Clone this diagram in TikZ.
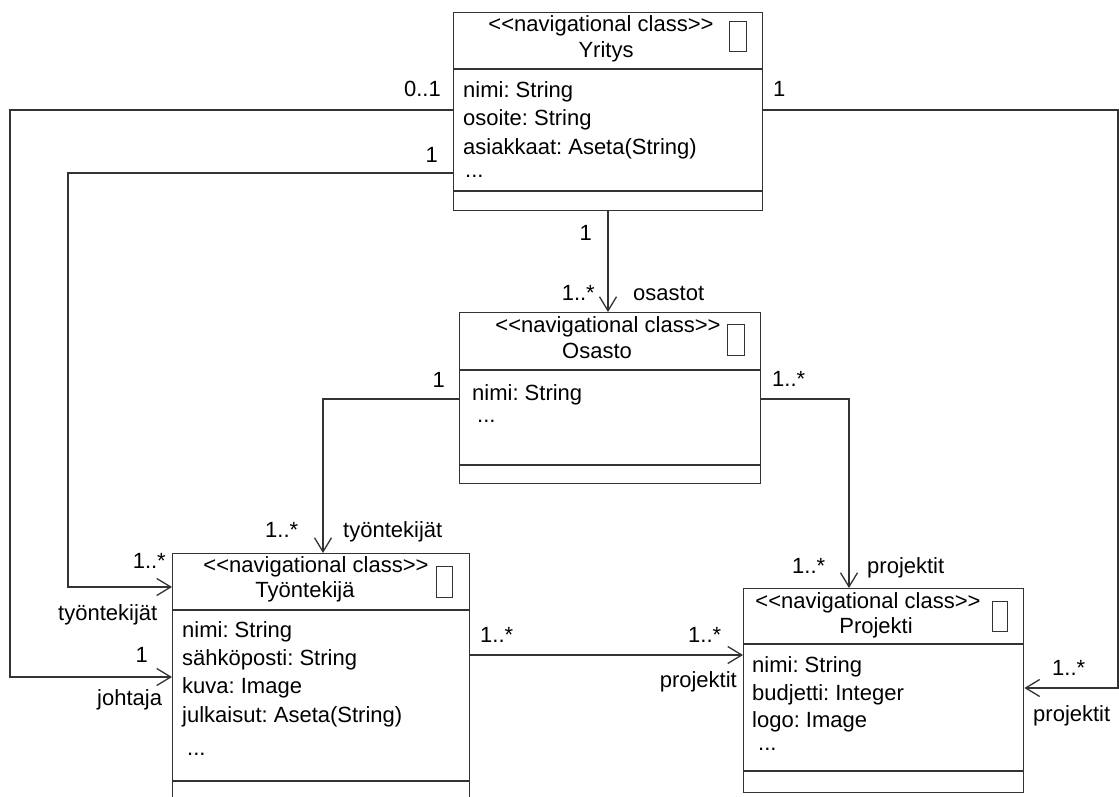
\documentclass[tikz,border=0pt]{standalone}
\usepackage{fontspec}
\setmainfont{Liberation Sans}[Ligatures=TeXOff]
\usetikzlibrary{arrows.meta}
\definecolor{linegray}{HTML}{333333}
\frenchspacing
\begin{document}
\begin{tikzpicture}[x=1pt,y=-1pt,
  box/.style={draw=linegray, line width=1.4pt, inner sep=0pt, anchor=north west},
  divider/.style={draw=linegray, line width=1.4pt},
  icon/.style={draw=linegray, line width=1pt},
  assoc/.style={draw=linegray, line width=1.3pt, -{Straight Barb[length=14pt,width=17pt]}},
  txt/.style={inner sep=0pt, font=\fontsize{22}{26}\selectfont},
  lw/.style={txt, anchor=base west},
  le/.style={txt, anchor=base east},
  lc/.style={txt, anchor=base},
]
\useasboundingbox (0,0) rectangle (1119,797);
\clip (0,0) rectangle (1119,797);
\fill[white] (0,0) rectangle (1119,797);

% class boxes
\node[box, minimum width=309pt, minimum height=198pt] (yritys) at (453,12) {};
\node[box, minimum width=301pt, minimum height=171pt] (osasto) at (459,312) {};
\node[box, minimum width=297pt, minimum height=260pt] (tyontekija) at (172,553) {};
\node[box, minimum width=280pt, minimum height=204pt] (projekti) at (743,588) {};

% compartments
\draw[divider] ([yshift=-57pt]yritys.north west) -- ([yshift=-57pt]yritys.north east);
\draw[divider] ([yshift=-179pt]yritys.north west) -- ([yshift=-179pt]yritys.north east);
\draw[divider] ([yshift=-58pt]osasto.north west) -- ([yshift=-58pt]osasto.north east);
\draw[divider] ([yshift=-153pt]osasto.north west) -- ([yshift=-153pt]osasto.north east);
\draw[divider] ([yshift=-57pt]tyontekija.north west) -- ([yshift=-57pt]tyontekija.north east);
\draw[divider] ([yshift=-228pt]tyontekija.north west) -- ([yshift=-228pt]tyontekija.north east);
\draw[divider] ([yshift=-56pt]projekti.north west) -- ([yshift=-56pt]projekti.north east);
\draw[divider] ([yshift=-183pt]projekti.north west) -- ([yshift=-183pt]projekti.north east);

% stereotype icons
\draw[icon] (729,22) rectangle (746,52);
\draw[icon] (727,324) rectangle (744,355);
\draw[icon] (436,566) rectangle (452,597);
\draw[icon] (992,601) rectangle (1007,631);

% Yritys
\node[lc] (ys) at (601,32) {<<navigational class>>};
\node[lc] (yn) at (606,58) {Yritys};
\node[lw] (ya1) at (463,98) {nimi: String};
\node[lw] (ya2) at (463,126) {osoite: String};
\node[lw] (ya3) at (463,154) {asiakkaat: Aseta(String)};
\node[lw] (ya4) at (465,177) {...};

% Osasto
\node[lc] (os) at (608,332) {<<navigational class>>};
\node[lc] (on) at (597,358) {Osasto};
\node[lw] (oa1) at (472,400) {nimi: String};
\node[lw] (oa2) at (477,422) {...};

% Tyontekija
\node[lc] (ts) at (316,572) {<<navigational class>>};
\node[lc] (tn) at (305,597) {Työntekijä};
\node[lw] (ta1) at (182,637) {nimi: String};
\node[lw] (ta2) at (182,665) {sähköposti: String};
\node[lw] (ta3) at (182,693) {kuva: Image};
\node[lw] (ta4) at (182,722) {julkaisut: Aseta(String)};
\node[lw] (ta5) at (187,755) {...};

% Projekti
\node[lc] (ps) at (868,608) {<<navigational class>>};
\node[lc] (pn) at (876,633) {Projekti};
\node[lw] (pa1) at (752,672) {nimi: String};
\node[lw] (pa2) at (752,700) {budjetti: Integer};
\node[lw] (pa3) at (752,727) {logo: Image};
\node[lw] (pa4) at (758,750) {...};

% bend points of the associations
\coordinate (a1) at (10,110);
\coordinate (a2) at (10,677);
\coordinate (b1) at (68,173);
\coordinate (b2) at (68,587);
\coordinate (c1) at (1118,110);
\coordinate (c2) at (1118,688);
\coordinate (d1) at (608,250);
\coordinate (e1) at (323,399);
\coordinate (f1) at (849,399);
\coordinate (g1) at (300,655);

% associations
\draw[assoc] (yritys.west |- a1) -- (a1) -- (a2) -- (tyontekija.west |- a2);
\draw[assoc] (yritys.west |- b1) -- (b1) -- (b2) -- (tyontekija.west |- b2);
\draw[assoc] (yritys.east |- c1) -- (c1) -- (c2) -- (projekti.east |- c2);
\draw[assoc] (yritys.south -| d1) -- (osasto.north -| d1);
\draw[assoc] (osasto.west |- e1) -- (e1) -- (tyontekija.north -| e1);
\draw[assoc] (osasto.east |- f1) -- (f1) -- (projekti.north -| f1);
\draw[assoc] (tyontekija.east |- g1) -- (projekti.west |- g1);

% multiplicities and role names
\node[le] (m1) at (441,97) {0..1};
\node[le] (m2) at (438,162) {1};
\node[lw] (m3) at (773,97) {1};
\node[le] (m4) at (592,240) {1};
\node[le] (m5) at (595,300) {1..*};
\node[lw] (r5) at (633,300) {osastot};
\node[le] (m6) at (445,387) {1};
\node[lw] (m7) at (265,537) {1..*};
\node[lw] (r7) at (343,537) {työntekijät};
\node[lw] (m8) at (772,386) {1..*};
\node[lw] (m9) at (792,573) {1..*};
\node[lw] (r9) at (867,573) {projektit};
\node[lw] (m10) at (480,642) {1..*};
\node[lw] (m11) at (688,642) {1..*};
\node[le] (r11) at (737,687) {projektit};
\node[le] (m12) at (166,568) {1..*};
\node[lw] (r12) at (58,620) {työntekijät};
\node[le] (m13) at (148,662) {1};
\node[lw] (r13) at (97,705) {johtaja};
\node[lw] (m14) at (1052,675) {1..*};
\node[lw] (r14) at (1033,721) {projektit};
\end{tikzpicture}
\end{document}
